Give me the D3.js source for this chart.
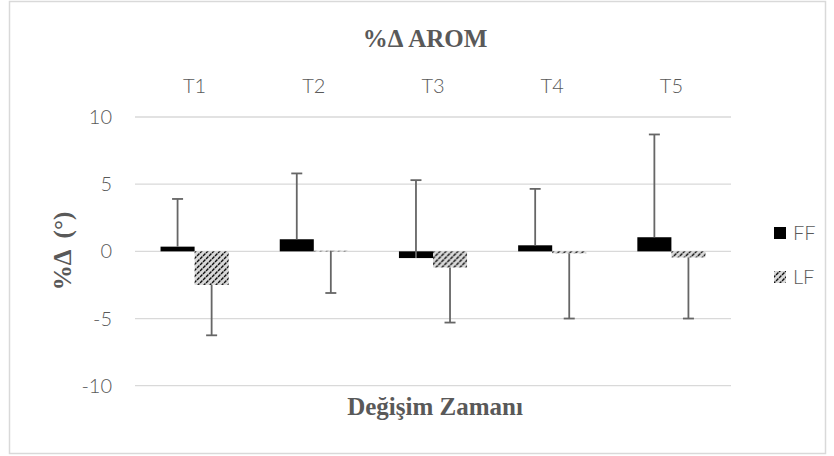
<!DOCTYPE html>
<html>
<head>
<meta charset="utf-8">
<script src="https://cdn.jsdelivr.net/npm/d3@7"></script>
<style>
  html, body { margin: 0; padding: 0; background: #fff; }
  svg { display: block; }
  .tick-label { font-family: Lato, "Open Sans", sans-serif; font-weight: 300; fill: #595959; }
  .serif-title { font-family: "Liberation Serif", "DejaVu Serif", serif; font-weight: bold; fill: #595959; white-space: pre; }
</style>
</head>
<body>
<svg id="chart"></svg>
<script>
// data
const categories = ['T1', 'T2', 'T3', 'T4', 'T5'];
const seriesNames = ['FF', 'LF'];
const ffValues = [0.35, 0.9, -0.5, 0.45, 1.05];
const ffErrPlus = [3.55, 4.9, 5.8, 4.2, 7.65];
const lfValues = [-2.5, 0.05, -1.2, -0.15, -0.45];
const lfErrMinus = [3.75, 3.15, 4.1, 4.85, 4.55];
const yTicks = [-10, -5, 0, 5, 10];

const width = 834;
const height = 456;

const svg = d3.select('#chart')
    .attr('width', width)
    .attr('height', height);

// wide upward diagonal hatch for LF
const defs = svg.append('defs');
const pat = defs.append('pattern')
    .attr('id', 'hatch')
    .attr('patternUnits', 'userSpaceOnUse')
    .attr('width', 6)
    .attr('height', 6);
pat.append('rect').attr('width', 6).attr('height', 6).attr('fill', '#d9d9d9');
pat.append('path')
    .attr('d', 'M-1,7 L7,-1 M-4,4 L4,-4 M2,10 L10,2')
    .attr('stroke', '#111')
    .attr('stroke-width', 1.4)
    .attr('stroke-dasharray', '3.4,0.9');

// outer border
svg.append('rect')
    .attr('x', 9.5).attr('y', 1.5)
    .attr('width', 816).attr('height', 452)
    .attr('fill', 'none')
    .attr('stroke', '#d9d9d9')
    .attr('stroke-width', 1.5);

const plot = { left: 135, right: 731 };

const x = d3.scaleBand()
    .domain(categories)
    .range([plot.left, plot.right]);

const xInner = d3.scaleBand()
    .domain(seriesNames)
    .range([0, x.bandwidth()])
    .paddingOuter(0.75);

const y = d3.scaleLinear()
    .domain([-10, 10])
    .range([385.7, 117]);

// gridlines
svg.append('g')
    .selectAll('line')
    .data(yTicks)
    .join('line')
    .attr('x1', plot.left)
    .attr('x2', plot.right)
    .attr('y1', d => y(d))
    .attr('y2', d => y(d))
    .attr('stroke', '#d9d9d9')
    .attr('stroke-width', 1.3);

// y tick labels
svg.append('g')
    .selectAll('text')
    .data(yTicks)
    .join('text')
    .attr('class', 'tick-label')
    .attr('x', 112)
    .attr('y', d => y(d))
    .attr('dy', '0.35em')
    .attr('text-anchor', 'end')
    .style('font-size', '20px')
    .text(d => d);

// category labels on top
svg.append('g')
    .selectAll('text')
    .data(categories)
    .join('text')
    .attr('class', 'tick-label')
    .attr('x', d => x(d) + x.bandwidth() / 2)
    .attr('y', 86)
    .attr('dy', '0.35em')
    .attr('text-anchor', 'middle')
    .style('font-size', '20px')
    .text(d => d);

const rows = categories.map((c, i) => ({
    cat: c,
    FF: ffValues[i],
    LF: lfValues[i],
    ffErr: ffErrPlus[i],
    lfErr: lfErrMinus[i]
}));

const fills = { FF: '#000', LF: 'url(#hatch)' };

// bars
const groups = svg.append('g')
    .selectAll('g')
    .data(rows)
    .join('g')
    .attr('transform', d => `translate(${x(d.cat)},0)`);

groups.selectAll('rect')
    .data(d => seriesNames.map(s => ({ s, v: d[s] })))
    .join('rect')
    .attr('x', d => xInner(d.s))
    .attr('width', xInner.bandwidth())
    .attr('y', d => Math.min(y(d.v), y(0)))
    .attr('height', d => Math.abs(y(d.v) - y(0)))
    .attr('fill', d => fills[d.s]);

// error bars (FF plus only, LF minus only)
const cap = 11;
const errData = [];
rows.forEach(d => {
    errData.push({ cx: x(d.cat) + xInner('FF') + xInner.bandwidth() / 2, from: d.FF, to: d.FF + d.ffErr });
    errData.push({ cx: x(d.cat) + xInner('LF') + xInner.bandwidth() / 2, from: d.LF, to: d.LF - d.lfErr });
});

const eg = svg.append('g')
    .attr('stroke', '#666')
    .attr('stroke-width', 1.8);
eg.selectAll('line.stem')
    .data(errData)
    .join('line')
    .attr('class', 'stem')
    .attr('x1', d => d.cx).attr('x2', d => d.cx)
    .attr('y1', d => y(d.from)).attr('y2', d => y(d.to));
eg.selectAll('line.cap')
    .data(errData)
    .join('line')
    .attr('class', 'cap')
    .attr('x1', d => d.cx - cap / 2).attr('x2', d => d.cx + cap / 2)
    .attr('y1', d => y(d.to)).attr('y2', d => y(d.to));

// titles
svg.append('text')
    .attr('class', 'serif-title')
    .attr('x', 425)
    .attr('y', 47)
    .attr('text-anchor', 'middle')
    .style('font-size', '25px')
    .text('%Δ AROM');

svg.append('text')
    .attr('class', 'serif-title')
    .attr('x', 435)
    .attr('y', 415)
    .attr('text-anchor', 'middle')
    .style('font-size', '25px')
    .text('Değişim Zamanı');

svg.append('text')
    .attr('class', 'serif-title')
    .attr('transform', 'translate(71,251) rotate(-90)')
    .attr('text-anchor', 'middle')
    .style('font-size', '25px')
    .text('%Δ  (°)');

// legend
const legend = svg.append('g')
    .selectAll('g')
    .data(seriesNames)
    .join('g')
    .attr('transform', (d, i) => `translate(774,${227 + i * 44})`);
legend.append('rect')
    .attr('width', 12)
    .attr('height', 12)
    .attr('fill', d => fills[d]);
legend.append('text')
    .attr('class', 'tick-label')
    .attr('x', 19)
    .attr('y', 6)
    .attr('dy', '0.35em')
    .style('font-size', '20px')
    .text(d => d);
</script>
</body>
</html>
